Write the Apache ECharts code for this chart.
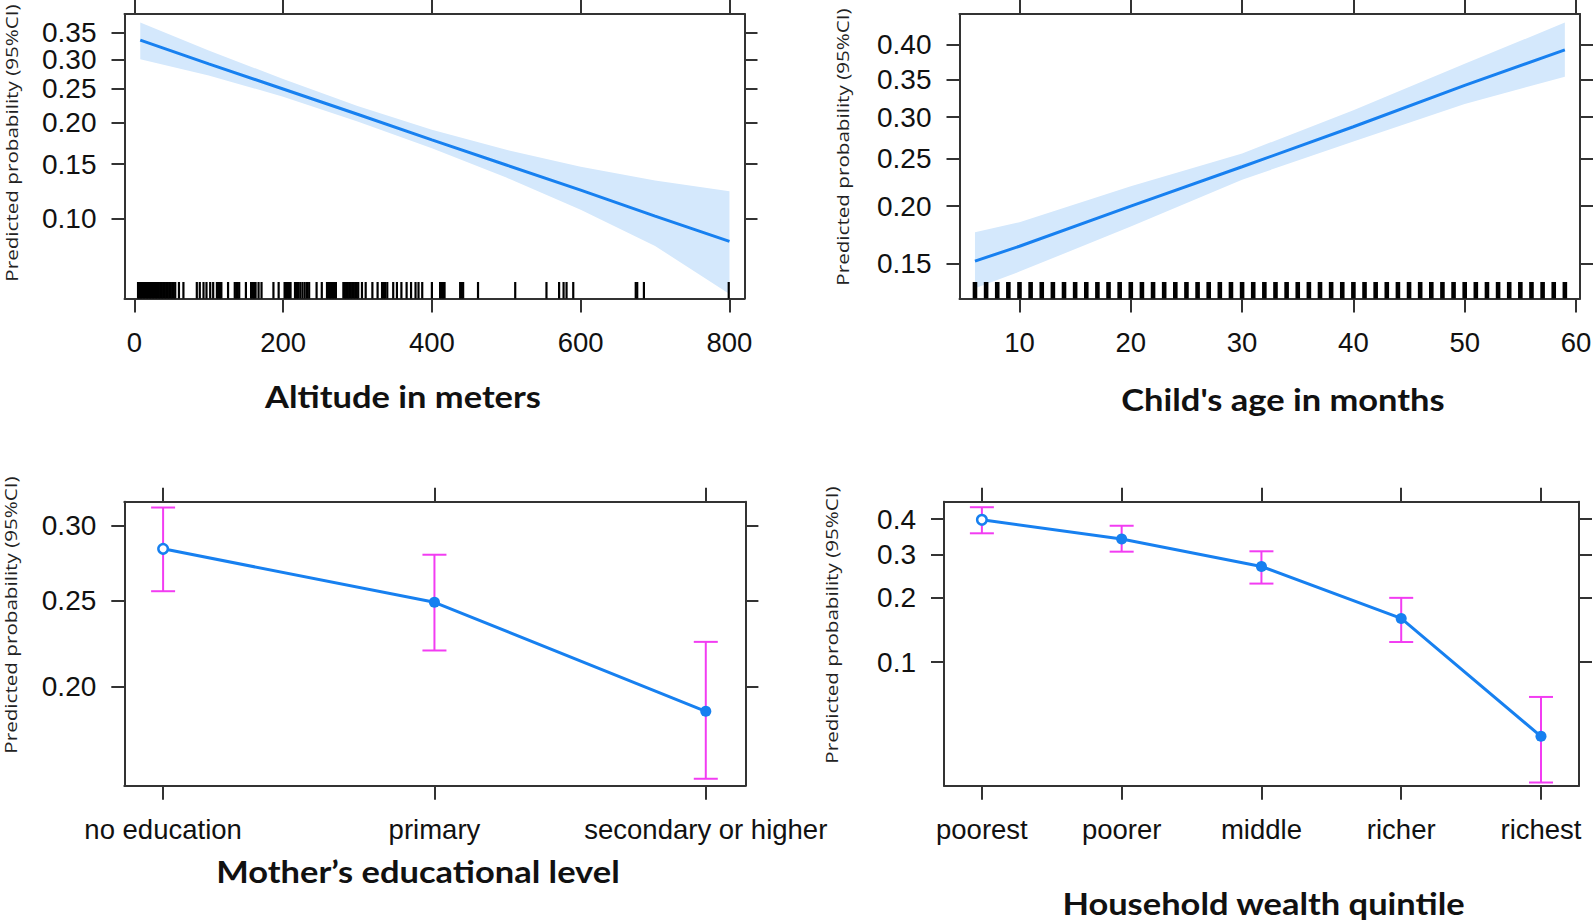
<!DOCTYPE html>
<html>
<head>
<meta charset="utf-8">
<script src="https://cdn.jsdelivr.net/npm/echarts@6/dist/echarts.min.js"></script>
<style>
html,body{margin:0;padding:0;background:#fff;}
#c{width:1594px;height:922px;}
</style>
</head>
<body>
<div id="c"></div>
<script>
// ---------------- DATA ----------------
// Panel 1: altitude (m)
const altX   = [8, 100, 200, 300, 400, 500, 600, 700, 800];
const altFit = [0.335, 0.292, 0.250, 0.212, 0.178, 0.149, 0.124, 0.102, 0.084];
const altLow = [0.300, 0.272, 0.238, 0.202, 0.168, 0.136, 0.107, 0.081, 0.0555];
const altUp  = [0.369, 0.316, 0.266, 0.224, 0.191, 0.166, 0.147, 0.133, 0.123];
const altRug = [5,7,9,11,13,15,17,19,21,23,25,27,29,31,33,35,37,39,41,43,45,47,49,51,53,55,
  60,66,84,88,93,97,102,106,111,113,115,117,126,135,137,139,141,150,157,159,161,163,167,171,
  187,194,202,204,206,208,210,216,218,220,223,226,229,232,235,245,252,259,261,263,265,267,269,271,
  281,283,285,287,289,291,293,295,297,299,301,306,311,320,327,333,335,337,340,348,353,359,366,372,
  378,382,387,400,411,413,415,417,438,440,442,462,512,554,571,577,581,590,674,676,685,799];
const altXTicks = [0, 200, 400, 600, 800];
const altYTicks = ['0.10', '0.15', '0.20', '0.25', '0.30', '0.35'];

// Panel 2: child's age (months)
const ageX   = [6, 10, 20, 30, 40, 50, 59];
const ageFit = [0.152, 0.164, 0.200, 0.241, 0.288, 0.342, 0.392];
const ageLow = [0.132, 0.144, 0.181, 0.227, 0.270, 0.317, 0.354];
const ageUp  = [0.176, 0.185, 0.220, 0.256, 0.309, 0.372, 0.432];
const ageRug = [6,7,8,9,10,11,12,13,14,15,16,17,18,19,20,21,22,23,24,25,26,27,28,29,30,31,32,
  33,34,35,36,37,38,39,40,41,42,43,44,45,46,47,48,49,50,51,52,53,54,55,56,57,58,59];
const ageXTicks = [10, 20, 30, 40, 50, 60];
const ageYTicks = ['0.15', '0.20', '0.25', '0.30', '0.35', '0.40'];

// Panel 3: mother's education
const eduCats = ['no education', 'primary', 'secondary or higher'];
const eduFit  = [0.284, 0.249, 0.187];
const eduLow  = [0.256, 0.220, 0.155];
const eduUp   = [0.313, 0.280, 0.225];
const eduYTicks = ['0.20', '0.25', '0.30'];

// Panel 4: household wealth
const wealthCats = ['poorest', 'poorer', 'middle', 'richer', 'richest'];
const wealthFit  = [0.398, 0.342, 0.269, 0.161, 0.042];
const wealthLow  = [0.358, 0.307, 0.229, 0.125, 0.024];
const wealthUp   = [0.436, 0.380, 0.308, 0.199, 0.067];
const wealthYTicks = ['0.1', '0.2', '0.3', '0.4'];

const titles = ['Altitude in meters', "Child's age in months", 'Mother\u2019s educational level', 'Household wealth quintile'];
const yTitle = 'Predicted probability (95%CI)';

// ---------------- LAYOUT / STYLE ----------------
const logit = p => Math.log(p / (1 - p));
const BLUE = '#1780f0', BAND = '#d4e8fc', MAG = '#f23cf2', AX = '#333';
const TICKFONT = 'Liberation Sans, Arial, sans-serif';

const P = [
  {grid:{left:124.5, top:14, width:620, height:284.5}, x:[-13.2, 820.2], y:[-2.8734, -0.4637]},
  {grid:{left:959.5, top:14, width:620.5, height:284.5}, x:[4.61, 60.36], y:[-1.9454, -0.2219]},
  {grid:{left:124.3, top:501.7, width:621.1, height:284}, x:[0.857, 3.146], y:[-1.7192, -0.7666]},
  {grid:{left:944, top:501.7, width:635, height:284}, x:[0.729, 5.272], y:[-3.7454, -0.1883]}
];
const xTickVals = [altXTicks, ageXTicks, [1,2,3], [1,2,3,4,5]];
const xFmt = [v => String(v), v => String(v), v => eduCats[Math.round(v) - 1], v => wealthCats[Math.round(v) - 1]];
const yTicks = [altYTicks, ageYTicks, eduYTicks, wealthYTicks];

const grids = [], xAxes = [], yAxes = [], series = [];
P.forEach((p, i) => {
  grids.push(Object.assign({outerBoundsMode: 'none', containLabel: false}, p.grid));
  const yv = yTicks[i].map(s => logit(parseFloat(s)));
  const yFmt = v => { const s = yTicks[i].find(t => Math.abs(logit(parseFloat(t)) - v) < 1e-6); return s || ''; };
  const lineStyle = {color: AX, width: 2};
  xAxes.push({type:'value', gridIndex:i, position:'bottom', min:p.x[0], max:p.x[1],
    axisLine:{show:true, onZero:false, lineStyle},
    axisTick:{show:true, length:14, lineStyle, customValues:xTickVals[i]},
    axisLabel:{show:true, customValues:xTickVals[i], formatter:xFmt[i], margin:29.5, hideOverlap:false,
      showMinLabel:true, showMaxLabel:true,
      fontSize:27.5, fontFamily:TICKFONT, color:'#111'},
    splitLine:{show:false}});
  xAxes.push({type:'value', gridIndex:i, position:'top', min:p.x[0], max:p.x[1],
    axisLine:{show:true, onZero:false, lineStyle},
    axisTick:{show:true, length:14, lineStyle, customValues:xTickVals[i]},
    axisLabel:{show:false}, splitLine:{show:false}});
  const labelBase = {show:true, margin:28, fontSize:28, hideOverlap:false, showMinLabel:true, showMaxLabel:true,
    fontFamily:TICKFONT, color:'#111', formatter:yFmt};
  // left axis: line, ticks, labels at even positions
  yAxes.push({type:'value', gridIndex:i, position:'left', min:p.y[0], max:p.y[1],
    axisLine:{show:true, onZero:false, lineStyle},
    axisTick:{show:true, length:13, lineStyle, customValues:yv},
    axisLabel:Object.assign({customValues:yv.filter((v, k) => k % 2 === 0)}, labelBase),
    splitLine:{show:false}});
  // right axis: line + ticks only
  yAxes.push({type:'value', gridIndex:i, position:'right', min:p.y[0], max:p.y[1],
    axisLine:{show:true, onZero:false, lineStyle},
    axisTick:{show:true, length:13, lineStyle, customValues:yv},
    axisLabel:{show:false}, splitLine:{show:false}});
  // extra left axis carrying the labels at odd positions (keeps close labels from hiding each other)
  yAxes.push({type:'value', gridIndex:i, position:'left', offset:0, min:p.y[0], max:p.y[1],
    axisLine:{show:false}, axisTick:{show:false},
    axisLabel:Object.assign({customValues:yv.filter((v, k) => k % 2 === 1)}, labelBase),
    splitLine:{show:false}});
});

function bandSeries(idx, xs, lo, up) {
  return {type:'custom', xAxisIndex:2*idx, yAxisIndex:3*idx, z:1, silent:true,
    data: xs.map((x, k) => [x, logit(lo[k]), logit(up[k])]),
    renderItem: (params, api) => {
      if (params.dataIndex !== 0) return null;
      const pts = [];
      xs.forEach((x, k) => pts.push(api.coord([x, logit(up[k])])));
      for (let k = xs.length - 1; k >= 0; k--) pts.push(api.coord([xs[k], logit(lo[k])]));
      return {type:'polygon', shape:{points:pts}, style:{fill:BAND, stroke:null}};
    }};
}
function rugSeries(idx, vals, w) {
  const ymin = P[idx].y[0];
  return {type:'custom', xAxisIndex:2*idx, yAxisIndex:3*idx, z:2, silent:true,
    data: vals.map(v => [v, ymin]),
    renderItem: (params, api) => {
      const c = api.coord([api.value(0), api.value(1)]);
      return {type:'rect', shape:{x:c[0] - w/2, y:c[1] - 16.5, width:w, height:16.5}, style:{fill:'#000'}};
    }};
}
function fitSeries(idx, xs, fit) {
  return {type:'line', xAxisIndex:2*idx, yAxisIndex:3*idx, z:3, silent:true, symbol:'none',
    data: xs.map((x, k) => [x, logit(fit[k])]),
    lineStyle:{color:BLUE, width:3}};
}
series.push(bandSeries(0, altX, altLow, altUp), rugSeries(0, altRug, 2.2), fitSeries(0, altX, altFit));
series.push(bandSeries(1, ageX, ageLow, ageUp), rugSeries(1, ageRug, 4.6), fitSeries(1, ageX, ageFit));

function errSeries(idx, lo, up) {
  return {type:'custom', xAxisIndex:2*idx, yAxisIndex:3*idx, z:1, silent:true,
    data: lo.map((l, k) => [k + 1, logit(l), logit(up[k])]),
    renderItem: (params, api) => {
      const a = api.coord([api.value(0), api.value(1)]);
      const b = api.coord([api.value(0), api.value(2)]);
      const st = {stroke:MAG, lineWidth:2};
      return {type:'group', children:[
        {type:'line', shape:{x1:a[0], y1:a[1], x2:b[0], y2:b[1]}, style:st},
        {type:'line', shape:{x1:a[0]-12, y1:a[1], x2:a[0]+12, y2:a[1]}, style:st},
        {type:'line', shape:{x1:b[0]-12, y1:b[1], x2:b[0]+12, y2:b[1]}, style:st}
      ]};
    }};
}
function pointSeries(idx, fit) {
  return {type:'line', xAxisIndex:2*idx, yAxisIndex:3*idx, z:3, silent:true,
    symbol:'circle', symbolSize:11,
    lineStyle:{color:BLUE, width:3},
    itemStyle:{color:BLUE},
    data: fit.map((f, k) => k === 0
      ? {value:[k + 1, logit(f)], symbolSize:9.5, itemStyle:{color:'#fff', borderColor:BLUE, borderWidth:2.5}}
      : {value:[k + 1, logit(f)]})};
}
series.push(errSeries(2, eduLow, eduUp), pointSeries(2, eduFit));
series.push(errSeries(3, wealthLow, wealthUp), pointSeries(3, wealthFit));

const TF = 'Lato, "Open Sans", sans-serif';
const titlePos = [[403, 396], [1283, 399], [418, 871], [1263.5, 903]];
const yTitlePos = [[12, 143], [843, 147], [11, 615], [832, 625]];
const graphics = [];
titles.forEach((t, i) => graphics.push({type:'text', x:titlePos[i][0], y:titlePos[i][1], scaleX:1.13,
  style:{text:t, font:'bold 30.5px ' + TF, fill:'#111', align:'center', verticalAlign:'middle',
    textAlign:'center', textVerticalAlign:'middle'}}));
yTitlePos.forEach(pp => graphics.push({type:'text', x:pp[0], y:pp[1], rotation:Math.PI/2, scaleX:1.29,
  style:{text:yTitle, font:'16px "Open Sans", sans-serif', fill:'#222', align:'center', verticalAlign:'middle',
    textAlign:'center', textVerticalAlign:'middle'}}));

const chart = echarts.init(document.getElementById('c'), null, {renderer:'svg'});
chart.setOption({
  animation:false,
  backgroundColor:'#fff',
  grid:grids, xAxis:xAxes, yAxis:yAxes, series:series,
  graphic:{elements:graphics}
});
</script>
</body>
</html>
